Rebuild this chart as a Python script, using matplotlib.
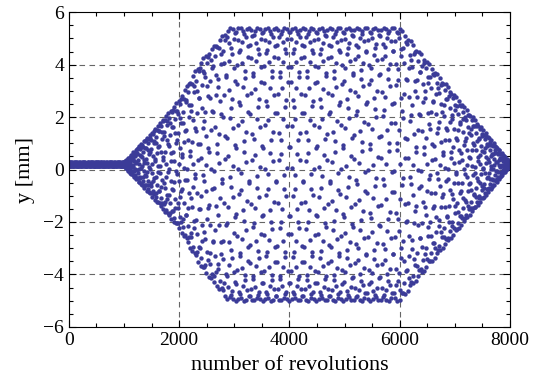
import numpy as np
import matplotlib
matplotlib.use("Agg")
import matplotlib.pyplot as plt
from matplotlib.ticker import MultipleLocator

# envelope of the vertical oscillation (turn, amplitude in mm), read per knee
env_turn = [0, 1000, 1500, 2000, 2400, 2900, 6000, 8000]
env_amp = [0.08, 0.08, 1.2, 2.45, 3.95, 5.2, 5.2, 0.05]
y_offset = 0.2          # closed-orbit offset [mm]
tune_frac = 0.2705      # fractional phase advance per recorded sample
sample_step = 4         # one point recorded every 4 revolutions
n_turns = 8000

turns = np.arange(0, n_turns + 1, sample_step)
amp = np.interp(turns, env_turn, env_amp)
phase = 2 * np.pi * tune_frac * np.arange(len(turns))
y = y_offset + amp * np.cos(phase)

plt.rcParams['font.family'] = ['Liberation Serif', 'DejaVu Serif']
plt.rcParams['axes.unicode_minus'] = True

fig = plt.figure(figsize=(5.42, 3.81), dpi=100)
ax = fig.add_axes([0.127, 0.142, 0.814, 0.826])

ax.scatter(turns, y, s=10, color='#3b3b98', linewidths=0, zorder=2)

ax.set_xlim(0, 8000)
ax.set_ylim(-6, 6)
ax.xaxis.set_major_locator(MultipleLocator(2000))
ax.xaxis.set_minor_locator(MultipleLocator(500))
ax.yaxis.set_major_locator(MultipleLocator(2))
ax.yaxis.set_minor_locator(MultipleLocator(0.5))
ax.tick_params(which='both', direction='in', top=True, right=True,
               labelsize=14, width=0.8)
ax.tick_params(which='major', length=5)
ax.tick_params(which='minor', length=3)

for gx in [2000, 4000, 6000]:
    ax.axvline(gx, color='#666666', ls=(0, (5, 4)), lw=0.8, zorder=1)
for gy in [-4, -2, 0, 2, 4]:
    ax.axhline(gy, color='#666666', ls=(0, (5, 4)), lw=0.8, zorder=1)

ax.set_xlabel('number of revolutions', fontsize=16, labelpad=5)
ax.set_ylabel('y [mm]', fontsize=16, labelpad=6)

fig.savefig('out.png', dpi=100)
